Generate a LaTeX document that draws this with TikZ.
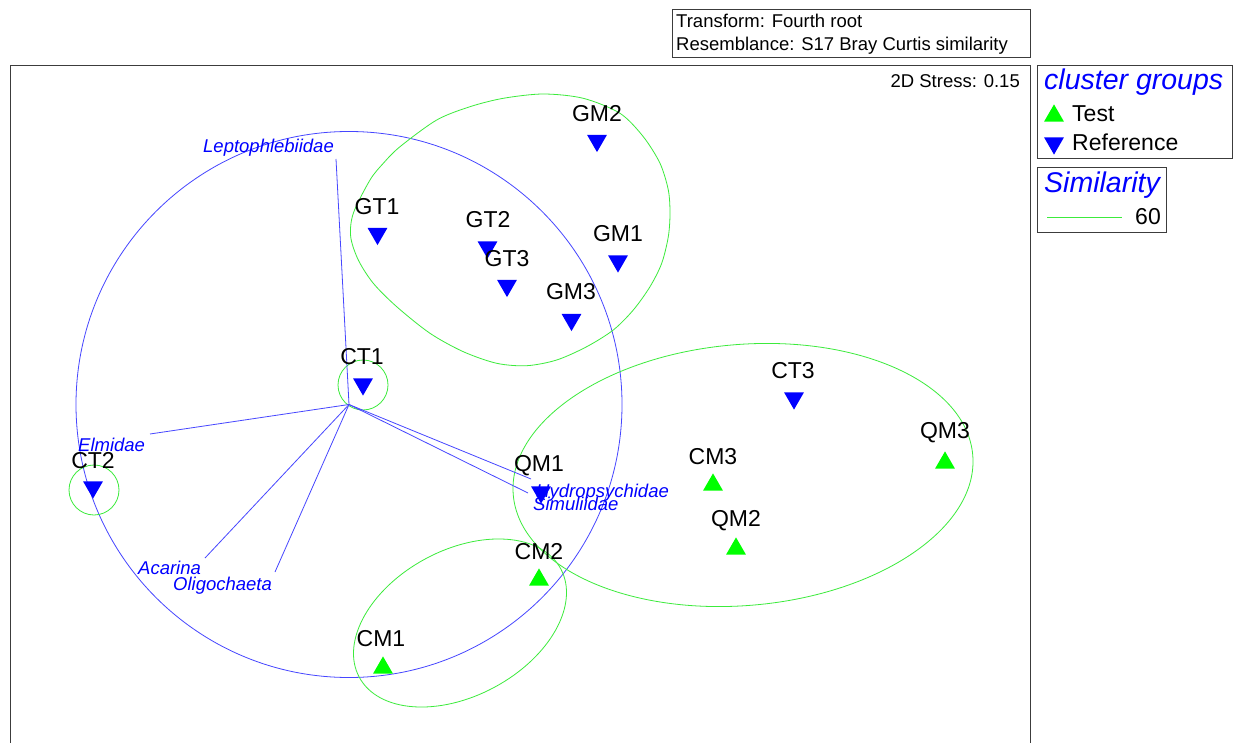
\documentclass[tikz,border=0pt]{standalone}
\usepackage{fontspec}
\setmainfont{Liberation Sans}
\usetikzlibrary{shapes.geometric}
\definecolor{pblue}{RGB}{0,0,255}
\definecolor{pgreen}{RGB}{0,255,0}
\definecolor{lblue}{RGB}{70,70,255}
\definecolor{lgreen}{RGB}{60,235,60}
\definecolor{framec}{RGB}{60,60,60}
\begin{document}
\begin{tikzpicture}[x=1pt,y=-1pt,
  tri/.style={regular polygon, regular polygon sides=3, minimum size=23pt, inner sep=0pt, draw=none},
  trup/.style={tri, fill=pgreen, yshift=-2.9pt},
  trdn/.style={tri, fill=pblue, shape border rotate=180, yshift=2.9pt},
  lbl/.style={font=\fontsize{23}{23}\selectfont, inner sep=0pt},
  smalltxt/.style={font=\fontsize{18.5}{18.5}\selectfont, inner sep=0pt, anchor=base west},
  sptxt/.style={font=\fontsize{18.5}{18.5}\selectfont\itshape, text=pblue, inner sep=0pt, anchor=base west},
  ttl/.style={font=\fontsize{28.5}{28.5}\selectfont\itshape, text=pblue, inner sep=0pt, anchor=base west},
  legtxt/.style={font=\fontsize{23}{23}\selectfont, inner sep=0pt, anchor=base west},
  boxline/.style={draw=framec, line width=0.9pt},
  contb/.style={draw=lblue, line width=0.8pt},
  contg/.style={draw=lgreen, line width=0.8pt},
  vec/.style={draw=lblue, line width=0.8pt},
]
\useasboundingbox[fill=white] (0,0) rectangle (1236,743);

% header box
\draw[boxline] (672,9) rectangle (1030,57);
\node[smalltxt] (tr) at (676,28) {Transform: Fourth root};
\node[smalltxt] (rs) at (676,51) {Resemblance: S17 Bray Curtis similarity};

% main frame
\draw[boxline] (10,743) -- (10,65) -- (1030,65) -- (1030,743);
\node[smalltxt, anchor=base east] (stress) at (1020,88) {2D Stress: 0.15};

% legends
\draw[boxline] (1037,65) rectangle (1232,158);
\node[ttl] (cg) at (1044,90) {cluster groups};
\node[trup] (legT) at (1054,113) {};
\node[legtxt] (tTest) at (1072,122) {Test};
\node[trdn] (legR) at (1054,146) {};
\node[legtxt] (tRef) at (1072,151) {Reference};

\draw[boxline] (1037,167) rectangle (1166,232);
\node[ttl] (sim) at (1044,193) {Similarity};
\coordinate (s1) at (1047,217);
\coordinate (s2) at (1122,217);
\draw[contg] (s1) -- (s2);
\node[legtxt, anchor=base east] (s60) at (1161,225) {60};

% blue correlation circle
\coordinate (o) at (349,404.5);
\draw[contb] (o) circle [radius=273pt];

% green similarity contours
\draw[contg] plot[smooth cycle, tension=0.5] coordinates {
  (350.7,236.7) (353.3,213.3) (370,180) (383.3,163.3) (400,146.7)
  (436.7,120) (470,106.7) (503.3,98.3) (543.3,94) (583.3,98.3)
  (620,113.3) (643.3,136.7) (660,163.3) (668.3,190) (670,213.3)
  (668.3,236.7) (661.7,263.3) (650,286.7) (633.3,310) (613.3,330)
  (586.7,346.7) (556.7,360) (526.7,365.7) (496.7,363.3) (463.3,351.7)
  (430,333.3) (396.7,306.7) (373.3,283.3) (358.3,260)};
\draw[contg] (363,385) circle [radius=25pt];
\draw[contg] (94,490) circle [radius=25pt];
\begin{scope}[shift={(460,623)}, rotate=28.3]
  \draw[contg] (0,0) ellipse [x radius=114.4pt, y radius=72.9pt];
\end{scope}
\begin{scope}[shift={(743,475)}, rotate=5]
  \draw[contg] (0,0) ellipse [x radius=230.6pt, y radius=130.5pt];
\end{scope}

% species vectors
\coordinate (eLep) at (336,159);
\coordinate (eElm) at (150,434);
\coordinate (eAca) at (205,558);
\coordinate (eOli) at (275,572);
\coordinate (eHyd) at (531,479);
\coordinate (eSim) at (528,493);
\draw[vec] (o) -- (eLep);
\draw[vec] (o) -- (eElm);
\draw[vec] (o) -- (eAca);
\draw[vec] (o) -- (eOli);
\draw[vec] (o) -- (eHyd);
\draw[vec] (o) -- (eSim);

% samples
\node[trdn] (GM2) at (597,143.5) {};
\node[trdn] (GT1) at (377.5,236.5) {};
\node[trdn] (GT2) at (487.5,250) {};
\node[trdn] (GT3) at (507,288.5) {};
\node[trdn] (GM1) at (618,264) {};
\node[trdn] (GM3) at (571.5,322.5) {};
\node[trdn] (CT1) at (363,387) {};
\node[trdn] (CT2) at (93,490) {};
\node[trdn] (QM1) at (541,495) {};
\node[trdn] (CT3) at (794,401) {};
\node[trup] (QM3) at (945,460) {};
\node[trup] (CM3) at (713,482) {};
\node[trup] (QM2) at (736,546) {};
\node[trup] (CM2) at (539,577) {};
\node[trup] (CM1) at (383,665) {};

\node[lbl] (lGM2) at (597,114) {GM2};
\node[lbl] (lGT1) at (377,207) {GT1};
\node[lbl] (lGT2) at (488,220) {GT2};
\node[lbl] (lGT3) at (507,259) {GT3};
\node[lbl] (lGM1) at (618,234) {GM1};
\node[lbl] (lGM3) at (571,292) {GM3};
\node[lbl] (lCT1) at (362,357) {CT1};
\node[lbl] (lCT2) at (93,461) {CT2};
\node[lbl] (lQM1) at (539,466) {QM1};
\node[lbl] (lCT3) at (793,371) {CT3};
\node[lbl] (lQM3) at (945,433) {QM3};
\node[lbl] (lCM3) at (713,457) {CM3};
\node[lbl] (lQM2) at (736,521) {QM2};
\node[lbl] (lCM2) at (539,552) {CM2};
\node[lbl] (lCM1) at (381,639) {CM1};

% species labels
\node[sptxt] (tLep) at (203,152.5) {Leptophlebiidae};
\node[sptxt] (tElm) at (78,451) {Elmidae};
\node[sptxt] (tAca) at (138,574.5) {Acarina};
\node[sptxt] (tOli) at (173,590.5) {Oligochaeta};
\node[sptxt] (tHyd) at (536,497.5) {Hydropsychidae};
\node[sptxt] (tSim) at (533,510.5) {Simuliidae};
\end{tikzpicture}
\end{document}
